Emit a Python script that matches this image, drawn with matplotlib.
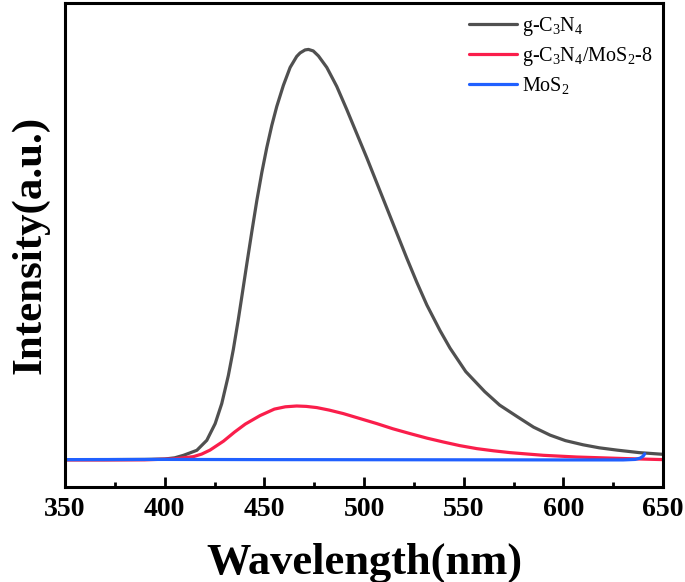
import numpy as np
import matplotlib
matplotlib.use("Agg")
import matplotlib.pyplot as plt
from matplotlib.ticker import MultipleLocator

plt.rcParams['font.family'] = 'Liberation Serif'
plt.rcParams['mathtext.fontset'] = 'custom'
plt.rcParams['mathtext.rm'] = 'Liberation Serif'
plt.rcParams['mathtext.it'] = 'Liberation Serif:italic'
plt.rcParams['mathtext.bf'] = 'Liberation Serif:bold'

# g-C3N4 emission
wl_cn = [350, 370, 390, 400, 405, 409.4, 416.1, 421.1, 425.3, 428.6, 431.9, 434.4,
         436.9, 438.6, 441.2, 443.7, 446.2, 448.7, 451.2, 453.7, 456.2, 459.5,
         462.9, 466.2, 467.9, 470.4, 472.1, 474.5, 477.1, 481.3, 486.3, 491.3,
         496.3, 501.4, 506.4, 511.4, 516.4, 521.4, 526.4, 531.5, 538.1, 543.1,
         551.0, 560.5, 568.0, 576.8, 585.0, 593.3, 601.0, 609.9, 618.0, 626.9,
         638.0, 650]
int_cn = [0, 0, 2, 6, 18, 43, 93, 193, 360, 560, 840, 1100,
          1400, 1620, 1960, 2280, 2590, 2870, 3120, 3340, 3530, 3740,
          3920, 4030, 4065, 4095, 4100, 4085, 4035, 3920, 3730, 3500,
          3260, 3015, 2765, 2515, 2265, 2015, 1775, 1545, 1290, 1115,
          880, 680, 545, 430, 325, 245, 190, 148, 118, 95,
          70, 53]

# g-C3N4/MoS2-8
wl_comp = [350, 370, 390, 397.7, 405, 414.4, 418.5, 422.7, 429.5, 435.0, 440.4, 447.8,
           455.0, 460.5, 466.2, 471.0, 476.3, 482.5, 489.6, 498.0, 506.4, 514.5,
           523.1, 531.5, 539.8, 548.0, 556.5, 565.0, 573.2, 590.0, 606.7, 631.8, 650]
int_comp = [-3, -3, -2, 3, 8, 30, 55, 95, 185, 275, 355, 440,
            505, 528, 536, 532, 520, 495, 460, 410, 360, 308,
            260, 215, 176, 140, 110, 88, 70, 43, 26, 10, 0]

# MoS2
wl_mos = [350, 400, 450, 500, 550, 600, 630, 636, 638.5, 640, 640.8]
int_mos = [0, 2, 0, -1, -2, -3, -3, 2, 15, 35, 58]

fig = plt.figure(figsize=(6.85, 5.82), dpi=100)
ax = fig.add_axes([0.095, 0.163, 0.873, 0.832])

kw = dict(lw=2.3, solid_joinstyle='round', solid_capstyle='round')
ax.plot(wl_cn, int_cn, color='#505050', label='g-C$_3$N$_4$', **kw)
ax.plot(wl_comp, int_comp, color='#fa1e4b', label='g-C$_3$N$_4$/MoS$_2$-8', **kw)
ax.plot(wl_mos, int_mos, color='#2060ff', label='MoS$_2$', **kw)

ax.set_xlim(350, 650)
ax.set_ylim(-275, 4565)
ax.xaxis.set_major_locator(MultipleLocator(50))
ax.xaxis.set_minor_locator(MultipleLocator(25))
ax.set_yticks([])
ax.tick_params(axis='x', which='major', direction='in', length=7, width=2,
               labelsize=20, pad=7)
ax.tick_params(axis='x', which='minor', direction='in', length=3.5, width=2)
for lab in ax.get_xticklabels():
    lab.set_fontweight('bold')
for sp in ax.spines.values():
    sp.set_linewidth(2.2)

ax.set_xlabel('Wavelength(nm)', fontsize=32, fontweight='bold', labelpad=15)
ax.set_ylabel('Intensity(a.u.)', fontsize=31, fontweight='bold', labelpad=11)

ax.legend(loc='upper right', frameon=False, fontsize=14.5, handlelength=2.4,
          handletextpad=0.25, labelspacing=0.35, borderaxespad=0.2,
          bbox_to_anchor=(1.003, 1.0))

fig.savefig('out.png', dpi=100)
